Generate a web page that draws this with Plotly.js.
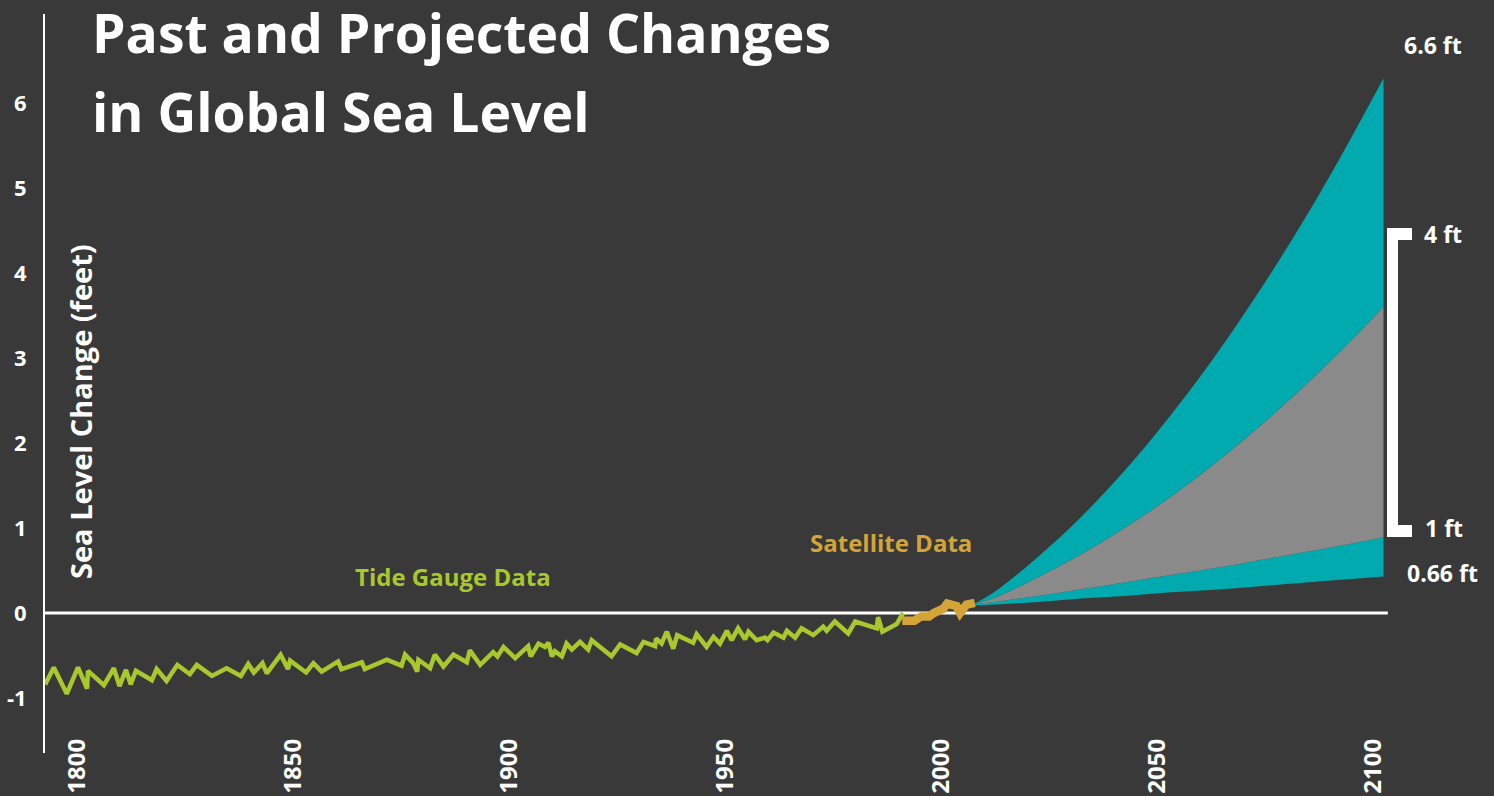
<!DOCTYPE html>
<html><head><meta charset="utf-8">
<script src="https://cdn.plot.ly/plotly-3.0.1.min.js"></script>
<style>html,body{margin:0;padding:0;background:#393939;}#chart{width:1494px;height:796px;}</style>
</head><body><div id="chart"></div>
<script>
// ---- data ----
const tideYears = [1790.2,1792.2,1795.2,1797.8,1799.9,1800.1,1803.8,1806.1,1807.4,1808.9,
 1810.0,1811.2,1814.9,1816.0,1818.3,1820.8,1823.7,1825.3,1828.8,1832.2,
 1835.5,1837.2,1838.5,1840.5,1841.5,1844.7,1846.4,1846.9,1850.6,1852.3,
 1854.2,1858.0,1858.8,1863.5,1864.2,1869.3,1872.7,1873.5,1875.4,1876.3,
 1876.6,1879.3,1880.4,1882.4,1884.7,1887.8,1888.5,1890.9,1893.9,1894.9,
 1896.3,1899.0,1902.0,1902.6,1904.4,1905.9,1906.7,1907.5,1908.2,1909.8,
 1910.9,1912.1,1914.0,1915.9,1916.7,1921.3,1923.3,1927.1,1928.7,1931.4,
 1931.6,1932.9,1934.1,1935.6,1936.5,1940.2,1941.0,1943.3,1944.9,1946.4,
 1948.0,1949.1,1950.6,1952.2,1953.0,1954.9,1956.8,1957.4,1958.8,1961.1,
 1961.9,1963.8,1965.3,1968.0,1970.3,1971.1,1973.0,1976.1,1977.7,1982.7,
 1983.0,1984.0,1987.3,1988.8];
const tideFeet = [-0.84,-0.64,-0.95,-0.64,-0.89,-0.68,-0.85,-0.65,-0.86,-0.67,
 -0.84,-0.68,-0.79,-0.66,-0.80,-0.61,-0.72,-0.61,-0.74,-0.65,
 -0.74,-0.60,-0.70,-0.59,-0.71,-0.49,-0.66,-0.56,-0.70,-0.59,
 -0.69,-0.57,-0.66,-0.58,-0.66,-0.55,-0.62,-0.49,-0.59,-0.69,
 -0.55,-0.65,-0.49,-0.63,-0.49,-0.58,-0.44,-0.61,-0.46,-0.51,
 -0.40,-0.53,-0.39,-0.51,-0.36,-0.40,-0.35,-0.51,-0.45,-0.51,
 -0.36,-0.43,-0.34,-0.43,-0.32,-0.51,-0.37,-0.47,-0.34,-0.39,
 -0.30,-0.36,-0.22,-0.42,-0.26,-0.35,-0.25,-0.40,-0.28,-0.36,
 -0.21,-0.32,-0.18,-0.31,-0.22,-0.32,-0.29,-0.32,-0.23,-0.29,
 -0.21,-0.29,-0.18,-0.26,-0.16,-0.21,-0.10,-0.24,-0.10,-0.18,
 -0.05,-0.22,-0.13,0.00];
const satYears = [1988.6,1991.4,1993.0,1994.8,1995.9,1998.1,1999.0,2001.2,2002.0,2003.5,2005.4];
const satFeet  = [-0.09,-0.09,-0.04,-0.04,0.00,0.05,0.11,0.08,0.00,0.10,0.12];

const projYears   = [2005,2010,2020,2030,2040,2050,2060,2070,2080,2090,2100];
const projHighest = [0.10,0.25,0.66,1.13,1.67,2.28,2.95,3.69,4.49,5.36,6.29];
const projIntHigh = [0.10,0.18,0.42,0.69,1.00,1.34,1.72,2.14,2.59,3.08,3.60];
const projIntLow  = [0.10,0.13,0.20,0.28,0.36,0.44,0.52,0.61,0.70,0.79,0.89];
const projLowest  = [0.09,0.10,0.13,0.17,0.20,0.24,0.27,0.31,0.35,0.39,0.43];

const xTickVals = [1800,1850,1900,1950,2000,2050,2100];
const xTickText = ['1800','1850','1900','1950','2000','2050','2100'];
const yTickVals = [-1,0,1,2,3,4,5,6];
const yTickText = ['-1','0','1','2','3','4','5','6'];

const titleLines = ['Past and Projected Changes','in Global Sea Level'];
const yTitle = 'Sea Level Change (feet)';
const tideLabel = 'Tide Gauge Data';
const satLabel = 'Satellite Data';
const ftLabels = ['6.6 ft','4 ft','1 ft','0.66 ft'];
const zeroLineEnd = 2101;

// ---- layout geometry ----
const W = 1494, Hh = 796;
const M = {l:45, r:0, t:14, b:43};
const PW = W - M.l - M.r, PH = Hh - M.t - M.b;
const XR = [1790.16, 2125.58];
const YR = [-1.647, 7.047];
const px2x = p => XR[0] + (p - M.l) / PW * (XR[1]-XR[0]);
const py2y = p => YR[1] - (p - M.t) / PH * (YR[1]-YR[0]);
const pxX = p => (p - M.l) / PW;
const pxY = p => (Hh - M.b - p) / PH;

const BG = '#393939', TEAL = '#00aaae', GRAY = '#8a8a8a', GREEN = '#a9c82d', GOLD = '#d4a437', WHITE = '#ffffff';
const FONT = 'Open Sans, sans-serif';

const fillBase = {type:'scatter', mode:'lines', hoverinfo:'skip', showlegend:false,
  line:{width:0, shape:'spline', smoothing:1}};

const traces = [
  Object.assign({}, fillBase, {x:projYears, y:projLowest}),
  Object.assign({}, fillBase, {x:projYears, y:projIntLow, fill:'tonexty', fillcolor:TEAL}),
  Object.assign({}, fillBase, {x:projYears, y:projIntHigh, fill:'tonexty', fillcolor:GRAY}),
  Object.assign({}, fillBase, {x:projYears, y:projHighest, fill:'tonexty', fillcolor:TEAL}),
  {type:'scatter', mode:'lines', x:tideYears, y:tideFeet, showlegend:false,
   line:{color:GREEN, width:4.5, shape:'linear'}},
  {type:'scatter', mode:'lines', x:satYears, y:satFeet, showlegend:false,
   line:{color:GOLD, width:8.5, shape:'linear'}}
];

function txt(text, cx, cy, size, color, angle) {
  return {xref:'paper', yref:'paper', x:pxX(cx), y:pxY(cy), text:text, showarrow:false,
    xanchor:'center', yanchor:'middle', textangle: angle||0,
    font:{family:FONT, size:size, color:color, weight:700}};
}

const annotations = [
  {xref:'paper', yref:'paper', x:pxX(90), y:pxY(32.5), text:titleLines[0], showarrow:false,
   xanchor:'left', yanchor:'middle', font:{family:FONT, size:53.5, color:WHITE, weight:700}},
  {xref:'paper', yref:'paper', x:pxX(90), y:pxY(111.5), text:titleLines[1], showarrow:false,
   xanchor:'left', yanchor:'middle', font:{family:FONT, size:53.5, color:WHITE, weight:700}},
  txt(yTitle, 81, 412, 29, WHITE, -90),
  txt(tideLabel, 453, 576, 24, GREEN),
  txt(satLabel, 891, 542, 24, GOLD),
  txt(ftLabels[0], 1432.5, 45, 23, WHITE),
  txt(ftLabels[1], 1443, 234, 23, WHITE),
  txt(ftLabels[2], 1444, 528, 23, WHITE),
  txt(ftLabels[3], 1442, 573, 23, WHITE)
];

const bx0 = px2x(1387), bx1 = px2x(1398), bx2 = px2x(1412);
const by0 = py2y(228), by1 = py2y(240), by2 = py2y(525), by3 = py2y(537);
const shapes = [
  {type:'line', xref:'x', yref:'y', x0:XR[0], x1:zeroLineEnd, y0:0, y1:0,
   line:{color:WHITE, width:3}, layer:'below'},
  {type:'path', xref:'x', yref:'y', layer:'above', fillcolor:WHITE, line:{width:0},
   path:`M${bx0},${by0} L${bx2},${by0} L${bx2},${by1} L${bx1},${by1} L${bx1},${by2} L${bx2},${by2} L${bx2},${by3} L${bx0},${by3} Z`}
];

const layout = {
  width:W, height:Hh, margin:M,
  paper_bgcolor:BG, plot_bgcolor:BG,
  showlegend:false,
  font:{family:FONT, color:WHITE},
  xaxis:{range:XR, showgrid:false, zeroline:false, showline:false, ticks:'',
    tickmode:'array', tickvals:xTickVals, ticktext:xTickText, tickangle:-90,
    ticklabelshift:-10, ticklabelstandoff:-20,
    tickfont:{family:FONT, size:24, color:WHITE, weight:700}, fixedrange:true},
  yaxis:{range:YR, showgrid:false, zeroline:false, showline:true, linecolor:WHITE, linewidth:2,
    ticks:'', tickmode:'array', tickvals:yTickVals, ticktext:yTickText, ticklabelstandoff:12,
    tickfont:{family:FONT, size:22, color:WHITE, weight:700}, fixedrange:true},
  annotations:annotations,
  shapes:shapes
};

Plotly.newPlot('chart', traces, layout, {displayModeBar:false, staticPlot:true});
</script>
</body></html>
